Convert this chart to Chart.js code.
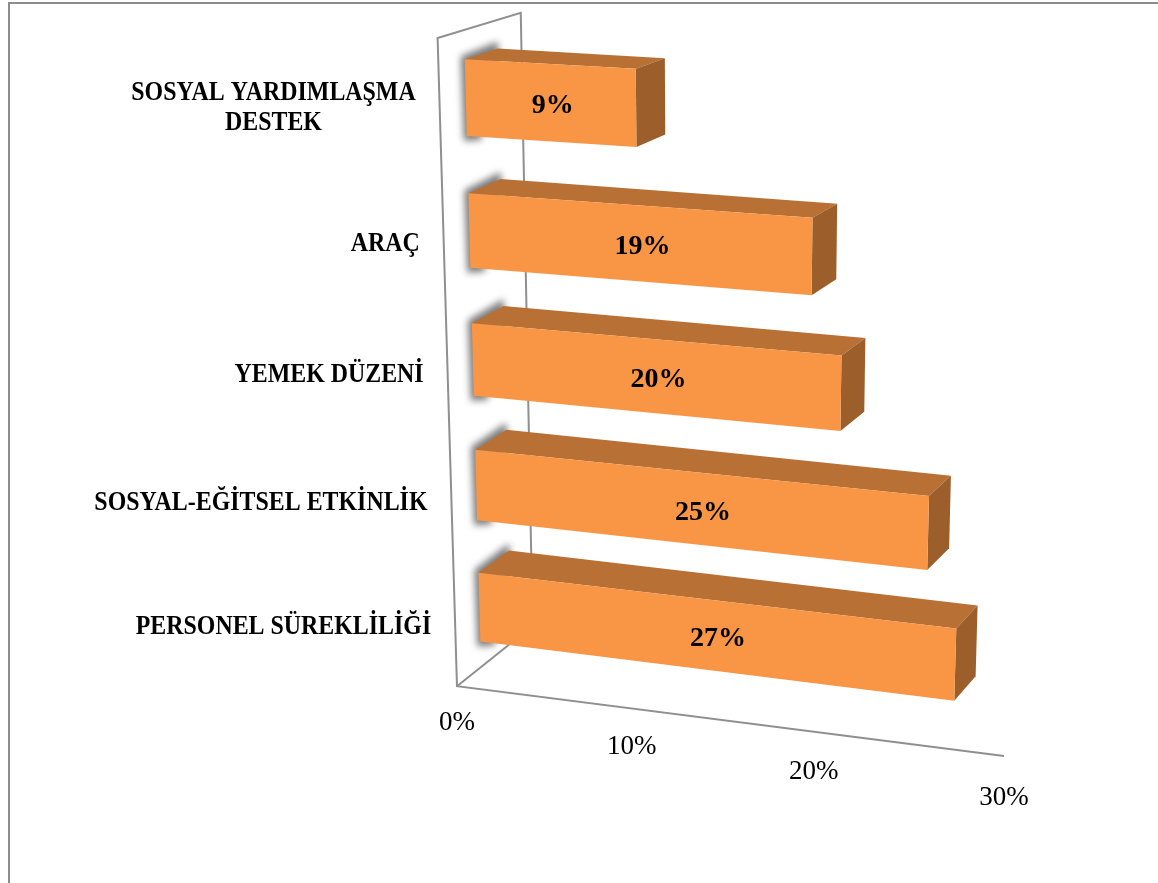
<!DOCTYPE html>
<html><head><meta charset="utf-8">
<style>html,body{margin:0;padding:0;background:#fff}canvas{display:block}</style>
<script src="https://cdn.jsdelivr.net/npm/chart.js@4"></script>
</head><body>
<canvas id="c" width="1158" height="883"></canvas>
<script>
const categories = [["SOSYAL YARDIMLAŞMA","DESTEK"],"ARAÇ","YEMEK DÜZENİ","SOSYAL-EĞİTSEL ETKİNLİK","PERSONEL SÜREKLİLİĞİ"];
const values = [9.3, 18.6, 20.2, 24.9, 26.5];
const axisMax = 30;
const axisStep = 10;

/* oblique view of the plot: where the unit square of the chart area lands */
const frontQuad = [[464,30],[1044,60],[1020,736],[481,667]];
const backQuad  = [[497,20],[1063,51],[1040,711],[511,643]];
const wallNear = -0.8, wallFar = 1.72;

function homography(q){
  const [[x0,y0],[x1,y1],[x2,y2],[x3,y3]] = q;
  const dx1=x1-x2,dx2=x3-x2,dx3=x0-x1+x2-x3,dy1=y1-y2,dy2=y3-y2,dy3=y0-y1+y2-y3;
  const den=dx1*dy2-dx2*dy1;
  const g=(dx3*dy2-dx2*dy3)/den,h=(dx1*dy3-dx3*dy1)/den;
  return {a:x1-x0+g*x1,b:x3-x0+h*x3,c:x0,d:y1-y0+g*y1,e:y3-y0+h*y3,f:y0,g,h};
}
const HF=homography(frontQuad),HB=homography(backQuad);
function ap(H,s,t){const w=H.g*s+H.h*t+1;return [(H.a*s+H.b*t+H.c)/w,(H.d*s+H.e*t+H.f)/w];}

const view3d = {
  id:'view3d',
  beforeDraw(chart){
    const c=chart.ctx;
    c.save();c.strokeStyle='#8c8c8c';c.lineWidth=2;
    c.beginPath();c.moveTo(chart.width,3);c.lineTo(9,3);c.lineTo(9,chart.height);c.stroke();c.restore();
  },
  beforeDatasetDraw(){return false;},
  afterDatasetsDraw(chart){
    const c=chart.ctx,a=chart.chartArea,xs=chart.scales.x,ys=chart.scales.y;
    const P=(px,py,d)=>{
      const s=(px-a.left)/a.width,t=(py-a.top)/a.height;
      const f=ap(HF,s,t),b=ap(HB,s,t);
      return [f[0]+(b[0]-f[0])*d,f[1]+(b[1]-f[1])*d];
    };
    const poly=(pts,fill)=>{c.beginPath();pts.forEach((p,i)=>i?c.lineTo(p[0],p[1]):c.moveTo(p[0],p[1]));c.closePath();c.fillStyle=fill;c.fill();};
    const x0=xs.getPixelForValue(0),xM=xs.getPixelForValue(axisMax);
    // walls and floor
    c.save();c.strokeStyle='#8f8f8f';c.lineWidth=2;c.lineJoin='miter';
    const seg=(pts)=>{c.beginPath();pts.forEach((p,i)=>i?c.lineTo(p[0],p[1]):c.moveTo(p[0],p[1]));c.stroke();};
    seg([P(x0,a.bottom,wallFar),P(x0,a.top,wallFar),P(x0,a.top,wallNear),P(x0,a.bottom,wallNear),P(xM,a.bottom,wallNear)]);
    seg([P(x0,a.bottom,wallNear),P(x0,a.bottom,wallFar)]);
    c.restore();
    // bars
    const meta=chart.getDatasetMeta(0);
    const off=(p,dx,dy)=>[p[0]+dx,p[1]+dy];
    meta.data.forEach((el)=>{
      const top=el.y-el.height/2,bot=el.y+el.height/2,L=el.base,R=el.x;
      const fTL=P(L,top,0),fBL=P(L,bot,0),fTR=P(R,top,0),fBR=P(R,bot,0);
      const bTL=P(L,top,1),bTR=P(R,top,1),bBR=P(R,bot,1);
      c.save();c.filter='blur(3.5px)';
      poly([off(fTL,-4,-3),off(bTL,0,-7),off(bTL,1,5),off(fBL,14,4),off(fBL,-3,5)],'#7c7c7c');
      c.restore();
      poly([fTL,bTL,bTR,fTR],'#B97034');
      poly([fTR,bTR,bBR,fBR],'#9C5F2B');
      poly([fTL,fTR,fBR,fBL],'#F99646');
    });
    // data labels
    c.save();c.fillStyle='#000';c.font='bold 28px "Liberation Serif"';c.textAlign='center';c.textBaseline='middle';
    meta.data.forEach((el,i)=>{
      const p=P(el.base+(el.x-el.base)*0.515,el.y,0);
      c.fillText(Math.round(values[i])+'%',p[0],p[1]+3);
    });
    // value axis labels, from the scale's ticks
    c.font='27px "Liberation Serif"';
    xs.ticks.forEach(t=>{
      const p=P(xs.getPixelForValue(t.value),a.bottom,wallNear);
      c.fillText(t.label,p[0],p[1]+37+5*t.value/axisMax);
    });
    // category labels, from the scale's labels
    c.font='bold 27px "Liberation Serif"';
    const squeeze=0.885;
    categories.forEach((lab,i)=>{
      const p=P(x0,ys.getPixelForValue(i),wallNear);
      const lines=Array.isArray(lab)?lab:[lab];
      const w=Math.max(...lines.map(l=>c.measureText(l).width))*squeeze;
      lines.forEach((l,j)=>{
        c.fillText(l,p[0]-24-w/2,p[1]+1+(j-(lines.length-1)/2)*30,c.measureText(l).width*squeeze);
      });
    });
    c.restore();
  }
};

new Chart(document.getElementById('c'),{
  type:'bar',
  data:{labels:categories,datasets:[{data:values,backgroundColor:'#F99646',barPercentage:0.57,categoryPercentage:1}]},
  options:{
    indexAxis:'y',responsive:false,animation:false,
    layout:{padding:0},
    plugins:{legend:{display:false},title:{display:false},tooltip:{enabled:false}},
    scales:{
      x:{display:false,min:0,max:axisMax,ticks:{stepSize:axisStep,callback:v=>v+'%'}},
      y:{display:false}
    }
  },
  plugins:[view3d]
});
</script>
</body></html>
